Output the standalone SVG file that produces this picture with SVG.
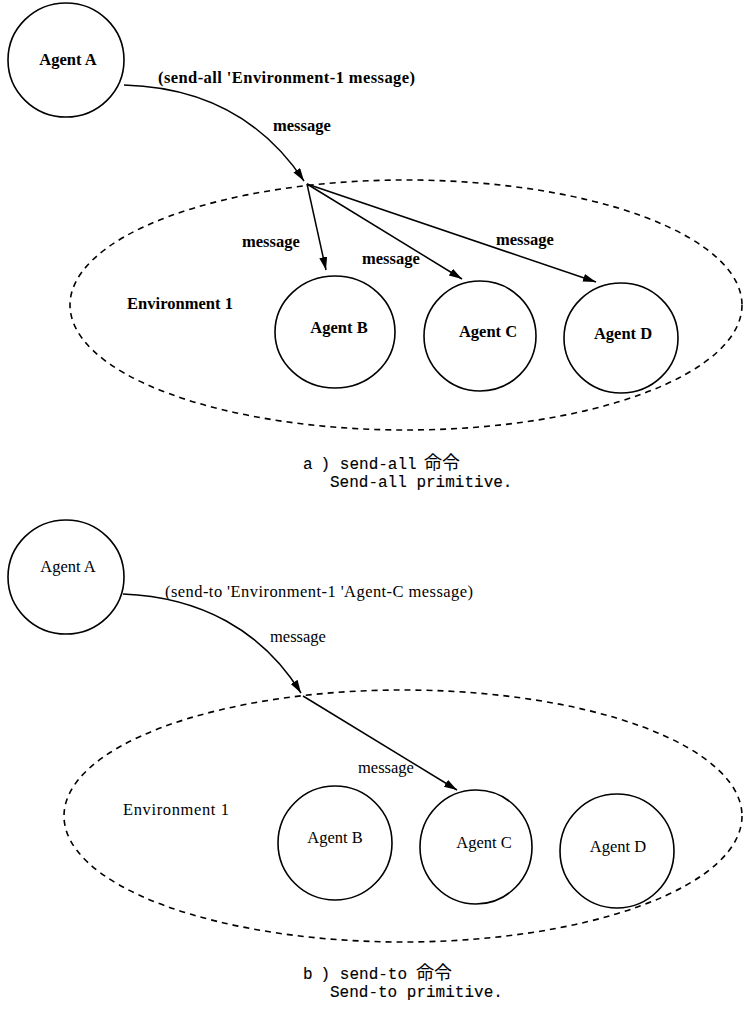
<svg xmlns="http://www.w3.org/2000/svg" width="743" height="1014" viewBox="0 0 743 1014">
<style>
  .bg { fill: #ffffff; }
  .agent { fill: none; stroke: #000; stroke-width: 1.6; }
  .env { fill: none; stroke: #000; stroke-width: 1.6; stroke-dasharray: 6 5; }
  .conn { fill: none; stroke: #000; stroke-width: 1.5; marker-end: url(#arrow); }
  .lbl { font-family: "Liberation Serif", "Times New Roman", serif; font-size: 16.5px; fill: #000; }
  .b { font-weight: bold; }
  .mid { text-anchor: middle; }
  .cap { font-family: "Liberation Mono", "Courier New", "Noto Sans CJK JP", monospace; font-size: 16px; fill: #000; stroke: #000; stroke-width: 0.12; }
  .cjk { font-family: "Noto Sans CJK JP", sans-serif; font-size: 18px; stroke-width: 0; }
</style>
<defs>
  <marker id="arrow" markerUnits="userSpaceOnUse" markerWidth="14" markerHeight="10" refX="13" refY="4" orient="auto">
    <path d="M0,0 L13,4 L0,8 Z" fill="#000"/>
  </marker>
</defs>
<rect class="bg" x="0" y="0" width="743" height="1014"/>

<!-- ===== a) send-all ===== -->
<g id="env1-a">
  <ellipse class="env" cx="406" cy="305" rx="336" ry="125"/>
  <text class="lbl b" x="127" y="309" textLength="106" lengthAdjust="spacing">Environment 1</text>
</g>
<g id="agentA-a">
  <ellipse class="agent" cx="66" cy="60" rx="58" ry="57"/>
  <text class="lbl b mid" x="68" y="65">Agent A</text>
</g>
<g id="agentB-a">
  <ellipse class="agent" cx="335" cy="332" rx="60" ry="56"/>
  <text class="lbl b mid" x="339" y="333">Agent B</text>
</g>
<g id="agentC-a">
  <ellipse class="agent" cx="480" cy="336" rx="56" ry="55"/>
  <text class="lbl b mid" x="488" y="337">Agent C</text>
</g>
<g id="agentD-a">
  <ellipse class="agent" cx="621" cy="338" rx="57" ry="55"/>
  <text class="lbl b mid" x="623" y="339">Agent D</text>
</g>
<g id="connectors-a">
  <path class="conn" d="M124,85 C200,87 262,118 304,181"/>
  <line class="conn" x1="307" y1="184" x2="326" y2="270"/>
  <line class="conn" x1="307" y1="184" x2="462" y2="279"/>
  <line class="conn" x1="307" y1="184" x2="596" y2="282"/>
  <text class="lbl b" x="158" y="83" textLength="257" lengthAdjust="spacing">(send-all 'Environment-1 message)</text>
  <text class="lbl b" x="273" y="131">message</text>
  <text class="lbl b" x="242" y="247">message</text>
  <text class="lbl b" x="362" y="264">message</text>
  <text class="lbl b" x="496" y="245">message</text>
</g>
<g id="caption-a">
  <text class="cap" x="303" y="469">a<tspan dx="8">)</tspan> send-all <tspan class="cjk" x="424">命令</tspan></text>
  <text class="cap" x="330" y="487">Send-all primitive.</text>
</g>

<!-- ===== b) send-to ===== -->
<g id="env1-b">
  <ellipse class="env" cx="403" cy="816" rx="339" ry="126"/>
  <text class="lbl" x="123" y="815" textLength="106" lengthAdjust="spacing">Environment 1</text>
</g>
<g id="agentA-b">
  <ellipse class="agent" cx="66" cy="577" rx="58" ry="57"/>
  <text class="lbl mid" x="68" y="572">Agent A</text>
</g>
<g id="agentB-b">
  <ellipse class="agent" cx="335" cy="843" rx="57" ry="57"/>
  <text class="lbl mid" x="335" y="843">Agent B</text>
</g>
<g id="agentC-b">
  <ellipse class="agent" cx="476" cy="847" rx="56" ry="57"/>
  <text class="lbl mid" x="484" y="848">Agent C</text>
</g>
<g id="agentD-b">
  <ellipse class="agent" cx="617" cy="851" rx="57" ry="57"/>
  <text class="lbl mid" x="618" y="852">Agent D</text>
</g>
<g id="connectors-b">
  <path class="conn" d="M123,594 C200,597 262,630 301,693"/>
  <line class="conn" x1="303" y1="696" x2="457" y2="790"/>
  <text class="lbl" x="165" y="597" textLength="308" lengthAdjust="spacing">(send-to 'Environment-1 'Agent-C message)</text>
  <text class="lbl" x="270" y="642">message</text>
  <text class="lbl" x="358" y="773">message</text>
</g>
<g id="caption-b">
  <text class="cap" x="303" y="979">b<tspan dx="8">)</tspan> send-to <tspan class="cjk" x="416">命令</tspan></text>
  <text class="cap" x="330" y="997">Send-to primitive.</text>
</g>
</svg>
